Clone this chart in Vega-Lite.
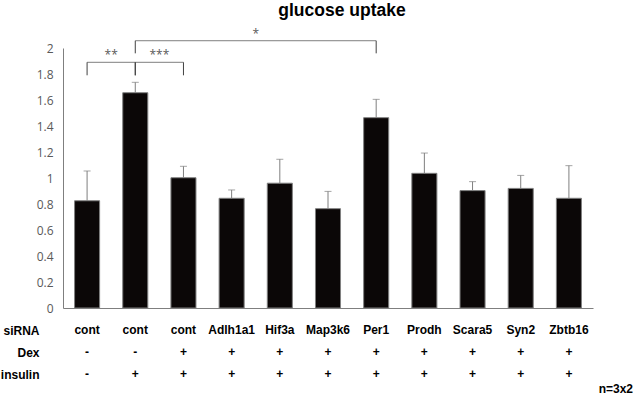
{
  "$schema": "https://vega.github.io/schema/vega-lite/v6.json",
  "padding": {"left": 0, "top": 2, "right": 0, "bottom": 0},
  "background": "white",
  "config": {"view": {"stroke": null}, "font": "Liberation Sans"},
  "datasets": {
    "main": [
      {"k": "c1", "v": 0.825, "up": 1.054},
      {"k": "c2", "v": 1.656, "up": 1.736},
      {"k": "c3", "v": 1.002, "up": 1.09},
      {"k": "Adlh1a1", "v": 0.844, "up": 0.908},
      {"k": "Hif3a", "v": 0.96, "up": 1.144},
      {"k": "Map3k6", "v": 0.764, "up": 0.897},
      {"k": "Per1", "v": 1.464, "up": 1.605},
      {"k": "Prodh", "v": 1.036, "up": 1.192},
      {"k": "Scara5", "v": 0.903, "up": 0.972},
      {"k": "Syn2", "v": 0.92, "up": 1.02},
      {"k": "Zbtb16", "v": 0.844, "up": 1.095}
    ],
    "brackets": [
      {"a": "c1", "b": "c2", "mid": "c2", "top": 1.89, "low": 1.79, "lab": "**"},
      {"a": "c2", "b": "c3", "mid": "c3", "top": 1.89, "low": 1.79, "lab": "***"},
      {"a": "c2", "b": "Per1", "mid": "Hif3a", "top": 2.056, "low": 1.959, "lab": "*"}
    ],
    "table": [
      {"k": "c1", "row": "siRNA", "val": "cont"},
      {"k": "c2", "row": "siRNA", "val": "cont"},
      {"k": "c3", "row": "siRNA", "val": "cont"},
      {"k": "Adlh1a1", "row": "siRNA", "val": "Adlh1a1"},
      {"k": "Hif3a", "row": "siRNA", "val": "Hif3a"},
      {"k": "Map3k6", "row": "siRNA", "val": "Map3k6"},
      {"k": "Per1", "row": "siRNA", "val": "Per1"},
      {"k": "Prodh", "row": "siRNA", "val": "Prodh"},
      {"k": "Scara5", "row": "siRNA", "val": "Scara5"},
      {"k": "Syn2", "row": "siRNA", "val": "Syn2"},
      {"k": "Zbtb16", "row": "siRNA", "val": "Zbtb16"},
      {"k": "c1", "row": "Dex", "val": "-"},
      {"k": "c2", "row": "Dex", "val": "-"},
      {"k": "c3", "row": "Dex", "val": "+"},
      {"k": "Adlh1a1", "row": "Dex", "val": "+"},
      {"k": "Hif3a", "row": "Dex", "val": "+"},
      {"k": "Map3k6", "row": "Dex", "val": "+"},
      {"k": "Per1", "row": "Dex", "val": "+"},
      {"k": "Prodh", "row": "Dex", "val": "+"},
      {"k": "Scara5", "row": "Dex", "val": "+"},
      {"k": "Syn2", "row": "Dex", "val": "+"},
      {"k": "Zbtb16", "row": "Dex", "val": "+"},
      {"k": "c1", "row": "insulin", "val": "-"},
      {"k": "c2", "row": "insulin", "val": "+"},
      {"k": "c3", "row": "insulin", "val": "+"},
      {"k": "Adlh1a1", "row": "insulin", "val": "+"},
      {"k": "Hif3a", "row": "insulin", "val": "+"},
      {"k": "Map3k6", "row": "insulin", "val": "+"},
      {"k": "Per1", "row": "insulin", "val": "+"},
      {"k": "Prodh", "row": "insulin", "val": "+"},
      {"k": "Scara5", "row": "insulin", "val": "+"},
      {"k": "Syn2", "row": "insulin", "val": "+"},
      {"k": "Zbtb16", "row": "insulin", "val": "+"}
    ]
  },
  "title": {"text": "n=3x2", "orient": "bottom", "anchor": "end", "dx": 40, "offset": -1, "fontSize": 12, "fontWeight": "bold", "font": "Liberation Sans", "color": "#000000"},
  "spacing": 5,
  "resolve": {"scale": {"x": "independent", "y": "independent"}},
  "vconcat": [
    {
      "width": 530,
      "height": 260,
      "title": {"text": "glucose uptake", "fontSize": 17.5, "fontWeight": "bold", "font": "Liberation Sans", "color": "#000000", "anchor": "middle", "dx": 14, "offset": 8},
      "layer": [
        {
          "data": {"name": "main"},
          "mark": {"type": "bar", "fill": "#0b0707", "stroke": "#808080", "strokeWidth": 1},
          "encoding": {
            "x": {"field": "k", "type": "nominal", "scale": {"domain": ["c1", "c2", "c3", "Adlh1a1", "Hif3a", "Map3k6", "Per1", "Prodh", "Scara5", "Syn2", "Zbtb16"], "paddingInner": 0.48, "paddingOuter": 0.24}, "axis": {"labels": false, "ticks": false, "title": null, "domainColor": "#7f7f7f"}},
            "y": {"field": "v", "type": "quantitative", "scale": {"domain": [0, 2], "nice": false}, "axis": {"values": [0, 0.2, 0.4, 0.6, 0.8, 1, 1.2, 1.4, 1.6, 1.8, 2], "tickCount": 20, "format": "~g", "labelOverlap": false, "grid": false, "ticks": false, "domainColor": "#7f7f7f", "labelColor": "#595959", "labelFont": "Open Sans", "labelFontSize": 12, "labelPadding": 10, "title": null}}
          }
        },
        {
          "data": {"name": "main"},
          "mark": {"type": "rule", "color": "#7f7f7f", "strokeWidth": 1},
          "encoding": {
            "x": {"field": "k", "type": "nominal"},
            "y": {"field": "v", "type": "quantitative"},
            "y2": {"field": "up"}
          }
        },
        {
          "data": {"name": "main"},
          "mark": {"type": "tick", "color": "#7f7f7f", "thickness": 1, "size": 7},
          "encoding": {
            "x": {"field": "k", "type": "nominal"},
            "y": {"field": "up", "type": "quantitative"}
          }
        },
        {
          "data": {"name": "brackets"},
          "mark": {"type": "rule", "color": "#7f7f7f", "strokeWidth": 1},
          "encoding": {
            "x": {"field": "a", "type": "nominal"},
            "x2": {"field": "b"},
            "y": {"field": "top", "type": "quantitative"}
          }
        },
        {
          "data": {"name": "brackets"},
          "mark": {"type": "rule", "color": "#404040", "strokeWidth": 1},
          "encoding": {
            "x": {"field": "a", "type": "nominal"},
            "y": {"field": "low", "type": "quantitative"},
            "y2": {"field": "top"}
          }
        },
        {
          "data": {"name": "brackets"},
          "mark": {"type": "rule", "color": "#404040", "strokeWidth": 1},
          "encoding": {
            "x": {"field": "b", "type": "nominal"},
            "y": {"field": "low", "type": "quantitative"},
            "y2": {"field": "top"}
          }
        },
        {
          "data": {"name": "brackets"},
          "mark": {"type": "text", "color": "#595959", "font": "Open Sans", "fontSize": 12, "baseline": "alphabetic", "dy": -3},
          "encoding": {
            "x": {"field": "mid", "type": "nominal", "bandPosition": -0.46},
            "y": {"field": "top", "type": "quantitative"},
            "text": {"field": "lab"}
          }
        }
      ]
    },
    {
      "width": 530,
      "height": 66,
      "data": {"name": "table"},
      "mark": {"type": "text", "font": "Liberation Sans", "fontWeight": "bold", "fontSize": 12, "color": "#000000"},
      "encoding": {
        "x": {"field": "k", "type": "nominal", "scale": {"domain": ["c1", "c2", "c3", "Adlh1a1", "Hif3a", "Map3k6", "Per1", "Prodh", "Scara5", "Syn2", "Zbtb16"]}, "axis": null},
        "y": {"field": "row", "type": "nominal", "scale": {"domain": ["siRNA", "Dex", "insulin"]}, "axis": {"domain": false, "ticks": false, "title": null, "labelFont": "Liberation Sans", "labelFontWeight": "bold", "labelFontSize": 12, "labelColor": "#000000", "labelPadding": 24}},
        "text": {"field": "val"}
      }
    }
  ]
}
